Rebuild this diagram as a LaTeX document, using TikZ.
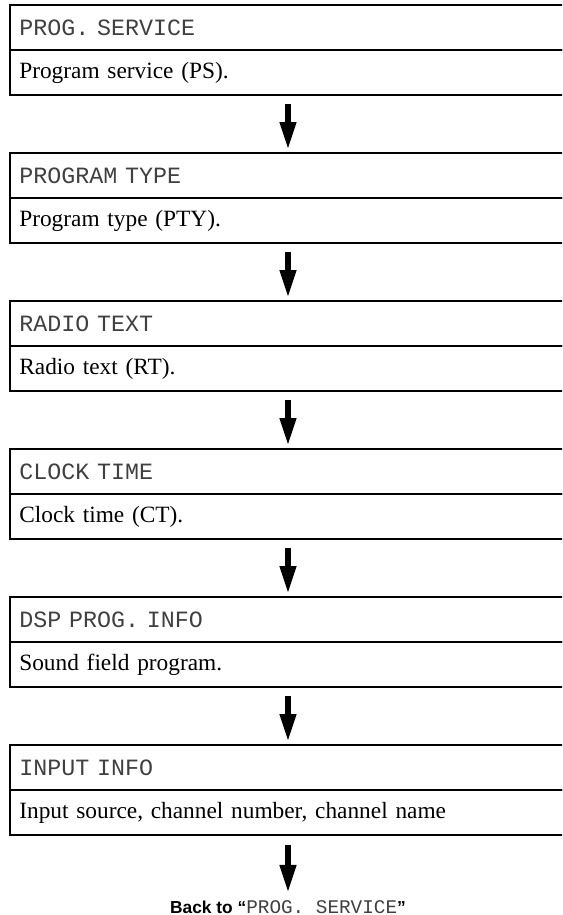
\documentclass[tikz,border=0pt]{standalone}
\usepackage{fontspec}
\setmainfont{Liberation Serif}
\setsansfont{Liberation Sans}
\newfontfamily\lcdfont[WordSpace={1,0,0}]{Liberation Mono}
\usetikzlibrary{arrows.meta, positioning}
\tikzset{
  every picture/.style={line width=2pt},
  screen/.style={draw, outer sep=0pt, text width=403pt, inner xsep=7pt, minimum height=33.75pt, align=left, font=\lcdfont\fontsize{17.5}{20}\selectfont, text=black!75},
  desc/.style={screen, font=\rmfamily\fontsize{17.5}{20}\selectfont, text=black},
  arrow/.style={-{Triangle[width=11.5pt, length=21pt]}, line width=4.5pt},
  back/.style={font=\sffamily\bfseries\fontsize{13}{15}\selectfont},
}

\begin{document}
\begin{tikzpicture}[node distance=43.5pt]
  \useasboundingbox (0,0) rectangle (421.5pt,-686.25pt);
  \clip (0,0) rectangle (421.5pt,-686.25pt);
  \node[screen, anchor=north west] (h1) at (7.5pt,-3.75pt) {PROG. SERVICE};
  \node[desc, below=0pt of h1] (d1) {Program service (PS).};
  \node[screen, below=of d1] (h2) {PROGRAM TYPE};
  \node[desc, below=0pt of h2] (d2) {Program type (PTY).};
  \node[screen, below=of d2] (h3) {RADIO TEXT};
  \node[desc, below=0pt of h3] (d3) {Radio text (RT).};
  \node[screen, below=of d3] (h4) {CLOCK TIME};
  \node[desc, below=0pt of h4] (d4) {Clock time (CT).};
  \node[screen, below=of d4] (h5) {DSP PROG. INFO};
  \node[desc, below=0pt of h5] (d5) {Sound field program.};
  \node[screen, below=of d5] (h6) {INPUT INFO};
  \node[desc, below=0pt of h6] (d6) {Input source, channel number, channel name};
  \node[back, anchor=base] (back) at (216pt,-684.75pt) {Back to “{\lcdfont\mdseries\color{black!75}\fontsize{14.5}{15}\selectfont PROG. SERVICE}”};
  % arrows between the screens
  \draw[arrow] ([yshift=-6.75pt]d1.south) -- ([yshift=2.25pt]h2.north); \draw[arrow] ([yshift=-6.75pt]d2.south) -- ([yshift=2.25pt]h3.north);
  \draw[arrow] ([yshift=-6.75pt]d3.south) -- ([yshift=2.25pt]h4.north); \draw[arrow] ([yshift=-6.75pt]d4.south) -- ([yshift=2.25pt]h5.north);
  \draw[arrow] ([yshift=-6.75pt]d5.south) -- ([yshift=2.25pt]h6.north); \draw[arrow] ([yshift=-7.5pt]d6.south) -- ([yshift=1pt]back.north);
\end{tikzpicture}
\end{document}
